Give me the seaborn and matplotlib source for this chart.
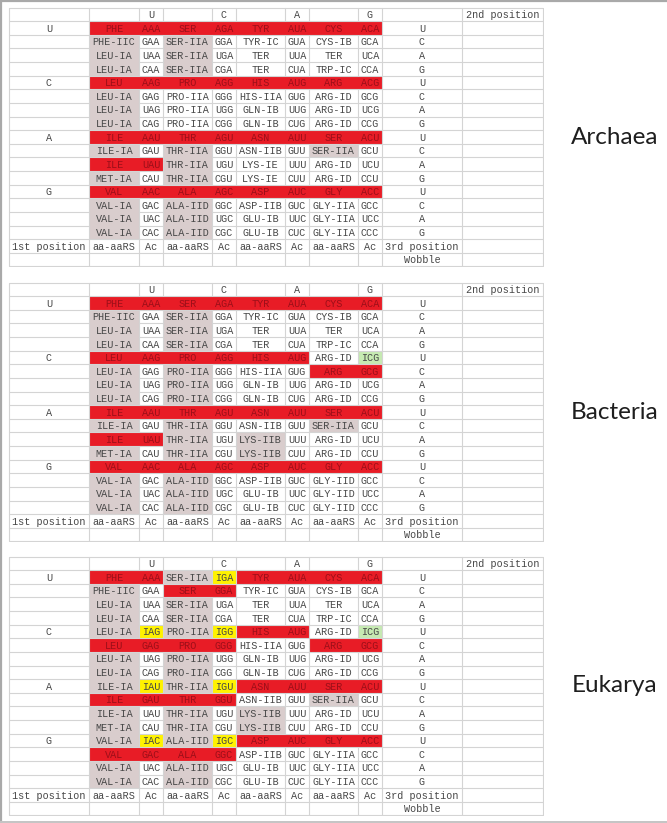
import numpy as np
import matplotlib
matplotlib.use("Agg")
import matplotlib.pyplot as plt
from matplotlib.colors import ListedColormap
from matplotlib.lines import Line2D
import seaborn as sns

sns.set_style("white")
plt.rcParams["font.family"] = ["Liberation Mono", "DejaVu Sans Mono"]

BASES = ["U", "C", "A", "G"]
HEADER = ["", "", "U", "", "C", "", "A", "", "G", "", "2nd position"]
FOOTER = ["1st position", "aa-aaRS", "Ac", "aa-aaRS", "Ac", "aa-aaRS", "Ac", "aa-aaRS", "Ac", "3rd position", ""]
FOOTER2 = ["", "", "", "", "", "", "", "", "", "Wobble", ""]
DOMAINS = ["Archaea", "Bacteria", "Eukarya"]

archaea = [
    ["PHE", "AAA", "SER", "AGA", "TYR", "AUA", "CYS", "ACA"],
    ["PHE-IIC", "GAA", "SER-IIA", "GGA", "TYR-IC", "GUA", "CYS-IB", "GCA"],
    ["LEU-IA", "UAA", "SER-IIA", "UGA", "TER", "UUA", "TER", "UCA"],
    ["LEU-IA", "CAA", "SER-IIA", "CGA", "TER", "CUA", "TRP-IC", "CCA"],
    ["LEU", "AAG", "PRO", "AGG", "HIS", "AUG", "ARG", "ACG"],
    ["LEU-IA", "GAG", "PRO-IIA", "GGG", "HIS-IIA", "GUG", "ARG-ID", "GCG"],
    ["LEU-IA", "UAG", "PRO-IIA", "UGG", "GLN-IB", "UUG", "ARG-ID", "UCG"],
    ["LEU-IA", "CAG", "PRO-IIA", "CGG", "GLN-IB", "CUG", "ARG-ID", "CCG"],
    ["ILE", "AAU", "THR", "AGU", "ASN", "AUU", "SER", "ACU"],
    ["ILE-IA", "GAU", "THR-IIA", "GGU", "ASN-IIB", "GUU", "SER-IIA", "GCU"],
    ["ILE", "UAU", "THR-IIA", "UGU", "LYS-IE", "UUU", "ARG-ID", "UCU"],
    ["MET-IA", "CAU", "THR-IIA", "CGU", "LYS-IE", "CUU", "ARG-ID", "CCU"],
    ["VAL", "AAC", "ALA", "AGC", "ASP", "AUC", "GLY", "ACC"],
    ["VAL-IA", "GAC", "ALA-IID", "GGC", "ASP-IIB", "GUC", "GLY-IIA", "GCC"],
    ["VAL-IA", "UAC", "ALA-IID", "UGC", "GLU-IB", "UUC", "GLY-IIA", "UCC"],
    ["VAL-IA", "CAC", "ALA-IID", "CGC", "GLU-IB", "CUC", "GLY-IIA", "CCC"],
]
archaea_fill = [
    "rrrrrrrr", "g.g.....", "g.g.....", "g.g.....",
    "rrrrrrrr", "g.......", "g.......", "g.......",
    "rrrrrrrr", "g.g...g.", "rrg.....", "g.g.....",
    "rrrrrrrr", "g.g.....", "g.g.....", "g.g.....",
]

bacteria = [
    ["PHE", "AAA", "SER", "AGA", "TYR", "AUA", "CYS", "ACA"],
    ["PHE-IIC", "GAA", "SER-IIA", "GGA", "TYR-IC", "GUA", "CYS-IB", "GCA"],
    ["LEU-IA", "UAA", "SER-IIA", "UGA", "TER", "UUA", "TER", "UCA"],
    ["LEU-IA", "CAA", "SER-IIA", "CGA", "TER", "CUA", "TRP-IC", "CCA"],
    ["LEU", "AAG", "PRO", "AGG", "HIS", "AUG", "ARG-ID", "ICG"],
    ["LEU-IA", "GAG", "PRO-IIA", "GGG", "HIS-IIA", "GUG", "ARG", "GCG"],
    ["LEU-IA", "UAG", "PRO-IIA", "UGG", "GLN-IB", "UUG", "ARG-ID", "UCG"],
    ["LEU-IA", "CAG", "PRO-IIA", "CGG", "GLN-IB", "CUG", "ARG-ID", "CCG"],
    ["ILE", "AAU", "THR", "AGU", "ASN", "AUU", "SER", "ACU"],
    ["ILE-IA", "GAU", "THR-IIA", "GGU", "ASN-IIB", "GUU", "SER-IIA", "GCU"],
    ["ILE", "UAU", "THR-IIA", "UGU", "LYS-IIB", "UUU", "ARG-ID", "UCU"],
    ["MET-IA", "CAU", "THR-IIA", "CGU", "LYS-IIB", "CUU", "ARG-ID", "CCU"],
    ["VAL", "AAC", "ALA", "AGC", "ASP", "AUC", "GLY", "ACC"],
    ["VAL-IA", "GAC", "ALA-IID", "GGC", "ASP-IIB", "GUC", "GLY-IID", "GCC"],
    ["VAL-IA", "UAC", "ALA-IID", "UGC", "GLU-IB", "UUC", "GLY-IID", "UCC"],
    ["VAL-IA", "CAC", "ALA-IID", "CGC", "GLU-IB", "CUC", "GLY-IID", "CCC"],
]
bacteria_fill = [
    "rrrrrrrr", "g.g.....", "g.g.....", "g.g.....",
    "rrrrrr.n", "g.g...rr", "g.g.....", "g.g.....",
    "rrrrrrrr", "g.g...g.", "rrg.g...", "g.g.g...",
    "rrrrrrrr", "g.g.....", "g.g.....", "g.g.....",
]

eukarya = [
    ["PHE", "AAA", "SER-IIA", "IGA", "TYR", "AUA", "CYS", "ACA"],
    ["PHE-IIC", "GAA", "SER", "GGA", "TYR-IC", "GUA", "CYS-IB", "GCA"],
    ["LEU-IA", "UAA", "SER-IIA", "UGA", "TER", "UUA", "TER", "UCA"],
    ["LEU-IA", "CAA", "SER-IIA", "CGA", "TER", "CUA", "TRP-IC", "CCA"],
    ["LEU-IA", "IAG", "PRO-IIA", "IGG", "HIS", "AUG", "ARG-ID", "ICG"],
    ["LEU", "GAG", "PRO", "GGG", "HIS-IIA", "GUG", "ARG", "GCG"],
    ["LEU-IA", "UAG", "PRO-IIA", "UGG", "GLN-IB", "UUG", "ARG-ID", "UCG"],
    ["LEU-IA", "CAG", "PRO-IIA", "CGG", "GLN-IB", "CUG", "ARG-ID", "CCG"],
    ["ILE-IA", "IAU", "THR-IIA", "IGU", "ASN", "AUU", "SER", "ACU"],
    ["ILE", "GAU", "THR", "GGU", "ASN-IIB", "GUU", "SER-IIA", "GCU"],
    ["ILE-IA", "UAU", "THR-IIA", "UGU", "LYS-IIB", "UUU", "ARG-ID", "UCU"],
    ["MET-IA", "CAU", "THR-IIA", "CGU", "LYS-IIB", "CUU", "ARG-ID", "CCU"],
    ["VAL-IA", "IAC", "ALA-IID", "IGC", "ASP", "AUC", "GLY", "ACC"],
    ["VAL", "GAC", "ALA", "GGC", "ASP-IIB", "GUC", "GLY-IIA", "GCC"],
    ["VAL-IA", "UAC", "ALA-IID", "UGC", "GLU-IB", "UUC", "GLY-IIA", "UCC"],
    ["VAL-IA", "CAC", "ALA-IID", "CGC", "GLU-IB", "CUC", "GLY-IIA", "CCC"],
]
eukarya_fill = [
    "rrgyrrrr", "g.rr....", "g.g.....", "g.g.....",
    "gygyrr.n", "rrrr..rr", "g.g.....", "g.g.....",
    "gygyrrrr", "rrrr..g.", "g.g.g...", "g.g.g...",
    "gygyrrrr", "rrrr....", "g.g.....", "g.g.....",
]

# layout (pixels)
COL_W = [80, 50, 24, 49, 24, 49, 24, 49, 24, 80, 81]
TABLE_TOPS = [7, 282, 556]
TABLE_H = 260
LEFT = 9
FIG_W, FIG_H = 667, 823

CODE = {".": 0, "r": 1, "g": 2, "y": 3, "n": 4}
cmap = ListedColormap(["#ffffff", "#e81c26", "#d9cdcd", "#fff200", "#c6eab2"])
GRID = "#d4d4d4"
TXT = "#474747"
RED_TXT = "#9c0f19"


def build(body, fill):
    text = [HEADER]
    codes = [[0] * 11]
    for i, row in enumerate(body):
        first = BASES[i // 4] if i % 4 == 0 else ""
        text.append([first] + row + [BASES[i % 4], ""])
        codes.append([0] + [CODE[c] for c in fill[i]] + [0, 0])
    text.append(FOOTER)
    text.append(FOOTER2)
    codes.append([0] * 11)
    codes.append([0] * 11)
    return text, np.array(codes)


def draw_table(ax, body, fill):
    text, codes = build(body, fill)
    nrow, ncol = codes.shape
    expanded = np.repeat(codes, COL_W, axis=1)
    sns.heatmap(expanded, cmap=cmap, vmin=-0.5, vmax=4.5, cbar=False,
                xticklabels=False, yticklabels=False, ax=ax, rasterized=True)
    edges = np.concatenate([[0], np.cumsum(COL_W)])

    # grid lines, skipped inside same-coloured filled blocks
    for i in range(nrow + 1):
        for j in range(ncol):
            above = codes[i - 1, j] if i > 0 else -1
            below = codes[i, j] if i < nrow else -1
            if above == below and above > 0:
                continue
            ax.plot([edges[j], edges[j + 1]], [i, i], color=GRID, lw=0.8)
    for j in range(ncol + 1):
        for i in range(nrow):
            lft = codes[i, j - 1] if j > 0 else -1
            rgt = codes[i, j] if j < ncol else -1
            if lft == rgt and lft > 0:
                continue
            ax.plot([edges[j], edges[j]], [i, i + 1], color=GRID, lw=0.8)

    for i in range(nrow):
        for j in range(ncol):
            s = text[i][j]
            if not s:
                continue
            color = RED_TXT if codes[i, j] == 1 else TXT
            ax.text((edges[j] + edges[j + 1]) / 2, i + 0.55, s, ha="center",
                    va="center", fontsize=7.3, color=color)
    ax.set_xlim(-1, edges[-1] + 1)
    ax.set_ylim(nrow + 0.05, -0.05)
    ax.axis("off")


fig = plt.figure(figsize=(FIG_W / 100, FIG_H / 100), dpi=100)
total_w = sum(COL_W)
tables = [(archaea, archaea_fill), (bacteria, bacteria_fill), (eukarya, eukarya_fill)]
for top, (body, fill), name in zip(TABLE_TOPS, tables, DOMAINS):
    ax = fig.add_axes([(LEFT - 1) / FIG_W, 1 - (top + TABLE_H + 0.1) / FIG_H,
                       (total_w + 2) / FIG_W, (TABLE_H + 0.2) / FIG_H])
    draw_table(ax, body, fill)
    fig.text(615 / FIG_W, 1 - (top + TABLE_H / 2) / FIG_H, name, ha="center",
             va="center", fontsize=17.5, family=["Lato", "DejaVu Sans"], color="#1e1e1e")

# grey frame on left, top and bottom
frame = "#a9a9a9"
fig.add_artist(Line2D([0, 1], [1 - 1 / FIG_H] * 2, color=frame, lw=1.6))
fig.add_artist(Line2D([1 / FIG_W] * 2, [0, 1], color=frame, lw=1.6))
fig.add_artist(Line2D([0, 1], [1.5 / FIG_H] * 2, color="#c4c4c4", lw=1.4))

plt.savefig("out.png", dpi=100)
plt.close()
